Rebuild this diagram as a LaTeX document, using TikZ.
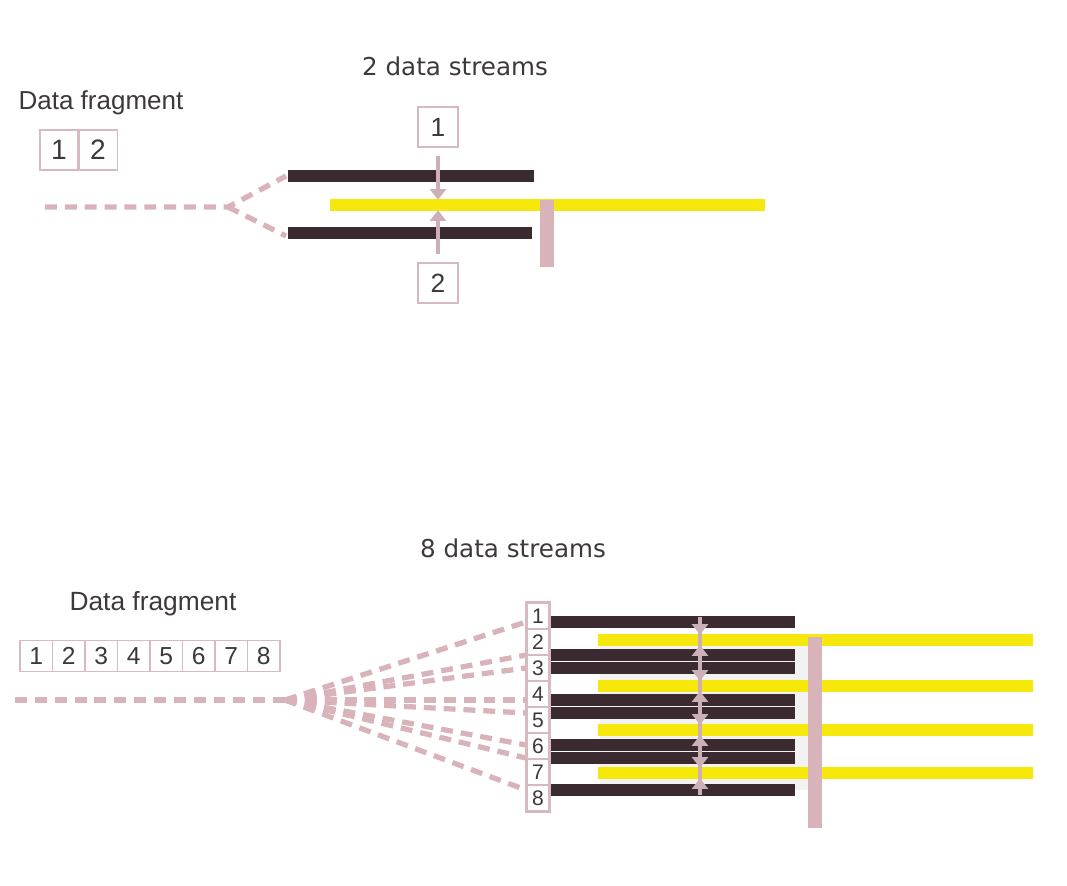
\documentclass[tikz,border=0pt]{standalone}
\usepackage{fontspec}
\setmainfont{Liberation Sans}
\newfontfamily\streamfont{DejaVu Sans}
\usepackage{tikz}
\usetikzlibrary{arrows.meta}

\definecolor{barblack}{RGB}{59,42,48}
\definecolor{baryellow}{RGB}{245,232,10}
\definecolor{feedpink}{RGB}{216,180,186}
\definecolor{boxpink}{RGB}{214,186,192}
\definecolor{arrowpink}{RGB}{205,175,184}
\definecolor{txtgray}{RGB}{62,56,60}

\tikzset{
  fragbox/.style={draw=boxpink, line width=0.6pt, fill=white, inner sep=0pt, text=txtgray},
  blackbar/.style={barblack, line width=6.8pt},
  yellowbar/.style={baryellow, line width=6.6pt},
  joinbar/.style={feedpink, line width=7.8pt},
  feed/.style={feedpink, line width=3pt, dash pattern=on 6.8pt off 4.5pt},
  linkline/.style={arrowpink, line width=2.2pt},
  linkarrow/.style={arrowpink, line width=2.2pt, -{Triangle[width=9pt,length=6pt]}, shorten >=3pt}
}

\begin{document}
\begin{tikzpicture}[x=0.02cm, y=-0.02cm]
        \useasboundingbox (0,0) rectangle (1067,885);

        % Top: 2 data streams
        \node[text=txtgray, font=\streamfont\fontsize{14}{16}\selectfont] (title2) at (455,66) {2 data streams};
        \node[text=txtgray, font=\fontsize{14.8}{17}\selectfont] (frag2) at (101,103) {Data fragment};
        \node[fragbox, minimum width=0.76cm, minimum height=0.8cm, font=\fontsize{16}{18}\selectfont] (f1) at (59,150) {1};
        \node[fragbox, minimum width=0.76cm, minimum height=0.8cm, font=\fontsize{16}{18}\selectfont, anchor=west] (f2) at (f1.east) {2};

        % Feed lines
        \coordinate (s2) at (45,207);
        \coordinate (sp2) at (228,207);
        \coordinate (t1) at (286,176);
        \coordinate (t2) at (286,236);
        \draw[feed] (s2) -- (sp2) -- (t1);
        \draw[feed] (sp2) -- (t2);

        % Streams and bus
        \draw[yellowbar] (330,205) -- (765,205);
        \draw[blackbar] (288,176) coordinate (u1) -- (534,176) coordinate (u2);
        \draw[blackbar] (288,233) coordinate (d1) -- (532,233) coordinate (d2);
        \draw[joinbar] (547,200) -- (547,267);

        % Inputs
        \node[fragbox, minimum width=0.8cm, minimum height=0.8cm, font=\fontsize{15}{17}\selectfont] (a1) at (438,127) {1};
        \node[fragbox, minimum width=0.8cm, minimum height=0.8cm, font=\fontsize{15}{17}\selectfont] (a2) at (438,283) {2};
        \coordinate (mid2) at (438,205);
        \draw[linkarrow] (a1.south) ++(0,8) -- (mid2);
        \draw[linkarrow] (a2.north) ++(0,-8) -- (mid2);

        % Bottom: 8 data streams
        \node[text=txtgray, font=\streamfont\fontsize{14}{16}\selectfont] (title8) at (513,548) {8 data streams};
        \node[text=txtgray, font=\fontsize{15}{17}\selectfont] (frag8) at (153,604) {Data fragment};
        \foreach \i in {1,...,8}
            \node[fragbox, minimum width=0.65cm, minimum height=0.62cm, font=\fontsize{14}{16}\selectfont] (g\i) at ({20+32.5*(\i-0.5)},656) {\i};

        % Shading behind the streams
        \fill[black!5] (600,640) rectangle (808,790);

        % Feed fan
        \coordinate (s8) at (15,700);
        \coordinate (sp8) at (285,700);
        \draw[feed] (s8) -- (sp8);
        \foreach \i/\y in {1/622, 2/655, 3/668, 4/700, 5/713, 6/745, 7/758, 8/790} {
            \coordinate (fe\i) at (526,\y);
            \draw[feed] (sp8) -- (fe\i);
        }

        % Streams
        \foreach \j/\y in {1/640, 2/686, 3/730, 4/773} {
            \coordinate (ym\j) at (700,\y);
            \draw[yellowbar] (598,\y) -- (1033,\y);
        }
        \foreach \i/\y in {1/622, 2/655, 3/668, 4/700, 5/713, 6/745, 7/758, 8/790} {
            \coordinate (k\i) at (700,\y);
            \draw[blackbar] (549,\y) -- (795,\y);
        }
        \draw[joinbar] (815,637) -- (815,828);

        % Stream numbers
        \foreach \i in {1,...,8}
            \node[fragbox, minimum width=0.44cm, minimum height=0.52cm, font=\fontsize{12}{14}\selectfont] (c\i) at (538,{603+26*(\i-0.5)}) {\i};
        \draw[boxpink, line width=1.6pt] (c1.north west) rectangle (c8.south east);

        % Links
        \draw[linkline, shorten <=-3pt, shorten >=-3pt] (k1) -- (k8);
        \foreach \i in {1,...,8} {
            \pgfmathtruncatemacro\j{(\i+1)/2}
            \draw[linkarrow] (k\i) -- (ym\j);
        }

    \end{tikzpicture}
\end{document}
